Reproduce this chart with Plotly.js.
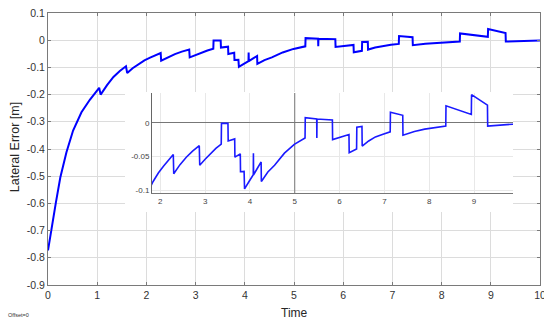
<!DOCTYPE html>
<html><head><meta charset="utf-8">
<script src="https://cdn.plot.ly/plotly-3.0.1.min.js"></script>
<style>
html,body{margin:0;padding:0;background:#fff;}
#main{position:absolute;left:0;top:0;width:544px;height:320px;}
#inset{position:absolute;left:125px;top:92px;width:388px;height:120px;}
</style></head><body>
<div id="main"></div><div id="inset"></div>
<script>
// Time [s]
const time = [0, 0.07, 0.16, 0.25, 0.375, 0.51, 0.68, 0.85, 1.04, 1.07, 1.20, 1.33, 1.46, 1.585, 1.61, 1.72, 1.84, 1.96, 2.075, 2.19, 2.29,
  2.30, 2.44, 2.58, 2.72, 2.87, 2.88, 3.00, 3.12, 3.24, 3.36, 3.365, 3.51, 3.515, 3.66, 3.665, 3.785, 3.79, 3.87, 3.88, 3.98,
  4.075, 4.078, 4.082, 4.17, 4.25, 4.255, 4.40, 4.55, 4.77, 4.99, 5.23, 5.235, 5.49, 5.493, 5.497, 5.84, 5.845, 6.21, 6.215,
  6.38, 6.385, 6.50, 6.505, 6.65, 6.80, 6.97, 7.13, 7.135, 7.41, 7.415, 7.67, 7.90, 8.37, 8.375, 8.94, 8.945, 9.30, 9.305,
  9.60, 9.87, 10.0];
// Lateral error [m]
const lateralError = [-0.773, -0.689, -0.597, -0.505, -0.412, -0.332, -0.265, -0.219, -0.175, -0.200, -0.165, -0.135, -0.113, -0.096, -0.121, -0.103, -0.087, -0.074, -0.064, -0.055, -0.047,
  -0.0755, -0.062, -0.051, -0.042, -0.034, -0.063, -0.054, -0.046, -0.038, -0.0316, -0.001, -0.001, -0.027, -0.024, -0.051, -0.046, -0.0725, -0.072, -0.098, -0.087,
  -0.077, -0.045, -0.077, -0.067, -0.058, -0.087, -0.073, -0.063, -0.045, -0.032, -0.0225, 0.0075, 0.0055, -0.0225, 0.0055, 0.004, -0.025, -0.0175, -0.0445,
  -0.039, -0.0065, -0.0055, -0.0345, -0.027, -0.021, -0.017, -0.0135, 0.0155, 0.011, -0.0185, -0.013, -0.0095, -0.005, 0.025, 0.0123, 0.0415, 0.026, -0.005,
  -0.0035, -0.0024, -0.0015];

const mainXTicks = [0,1,2,3,4,5,6,7,8,9,10];
const mainYTicks = [0.1,0,-0.1,-0.2,-0.3,-0.4,-0.5,-0.6,-0.7,-0.8,-0.9];
const mainYTickText = ['0.1','0','-0.1','-0.2','-0.3','-0.4','-0.5','-0.6','-0.7','-0.8','-0.9'];
const insetXTicks = [2,3,4,5,6,7,8,9];
const insetYTicks = [-0.1,-0.05,0];
const insetYTickText = ['-0.1','-0.05','0'];
const insetXRange = [1.815, 9.87];
const insetYRange = [-0.104, 0.044];
const insetMark = 5;

const FONT = 'Liberation Sans, Arial, sans-serif';
const cfg = {displayModeBar:false, staticPlot:true};

Plotly.newPlot('main', [{
  x: time, y: lateralError, type:'scatter', mode:'lines',
  line:{color:'#0000ff', width:2}, hoverinfo:'skip'
}], {
  width:544, height:320,
  margin:{l:48, r:4, t:13, b:35},
  paper_bgcolor:'#fff', plot_bgcolor:'#fff',
  font:{family:FONT, color:'#333'},
  showlegend:false,
  xaxis:{range:[0,10], tickvals:mainXTicks, ticktext:mainXTicks.map(String),
    showgrid:true, gridcolor:'#dcdcdc', gridwidth:1, zeroline:false,
    showline:true, linecolor:'#7a7a7a', linewidth:1, mirror:'ticks',
    ticks:'inside', ticklen:3, tickcolor:'#7a7a7a', tickfont:{size:10.5, color:'#333'},
    ticklabeloverflow:'allow'},
  yaxis:{range:[-0.9,0.1], tickvals:mainYTicks, ticktext:mainYTickText,
    showgrid:true, gridcolor:'#dcdcdc', gridwidth:1, zeroline:false,
    showline:true, linecolor:'#7a7a7a', linewidth:1, mirror:'ticks',
    ticks:'inside', ticklen:3, tickcolor:'#7a7a7a', tickfont:{size:10.5, color:'#333'}},
  annotations:[
    {text:'Time', xref:'paper', yref:'paper', x:0.502, y:-0.104, xanchor:'center', yanchor:'middle', showarrow:false, font:{size:12, color:'#262626'}},
    {text:'Lateral Error [m]', xref:'paper', yref:'paper', x:-0.067, y:0.507, xanchor:'center', yanchor:'middle', textangle:-90, showarrow:false, font:{size:12.5, color:'#262626'}},
    {text:'Offset=0', xref:'paper', yref:'paper', x:-0.085, y:-0.11, xanchor:'left', yanchor:'middle', showarrow:false, font:{size:5.5, color:'#333'}}
  ]
}, cfg);

Plotly.newPlot('inset', [
  {x:[insetMark, insetMark], y:insetYRange, type:'scatter', mode:'lines',
   line:{color:'#777', width:1}, hoverinfo:'skip'},
  {x: time, y: lateralError, type:'scatter', mode:'lines',
   line:{color:'#1a1aff', width:1.6}, hoverinfo:'skip'}
], {
  width:388, height:120,
  margin:{l:27, r:0, t:1, b:19},
  paper_bgcolor:'#fff', plot_bgcolor:'#fff',
  font:{family:FONT, color:'#444'},
  showlegend:false,
  xaxis:{range:insetXRange, tickvals:insetXTicks, ticktext:insetXTicks.map(String),
    showgrid:true, gridcolor:'#e8e8e8', zeroline:false,
    showline:true, linecolor:'#777', linewidth:1, mirror:false,
    ticks:'', tickfont:{size:8, color:'#444'}},
  yaxis:{range:insetYRange, tickvals:insetYTicks, ticktext:insetYTickText,
    showgrid:true, gridcolor:'#e8e8e8', zeroline:true, zerolinecolor:'#777', zerolinewidth:1,
    showline:true, linecolor:'#666', linewidth:1, mirror:false,
    ticks:'', tickfont:{size:8, color:'#444'}}
}, cfg);
</script>
</body></html>
